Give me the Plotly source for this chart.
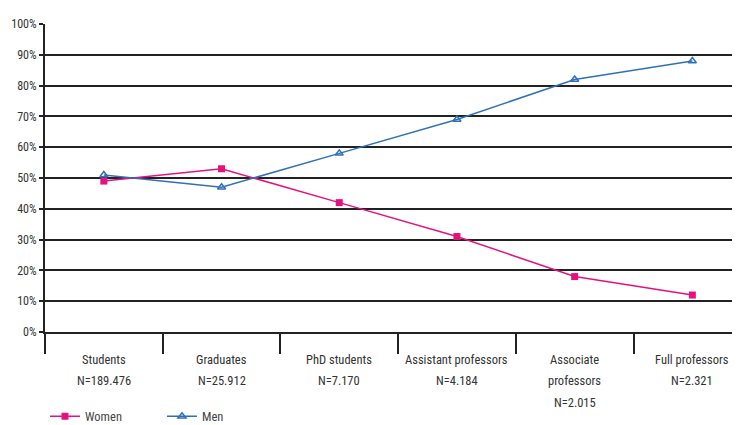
import plotly.graph_objects as go

categories = ["Students<br>N=189.476", "Graduates<br>N=25.912", "PhD students<br>N=7.170",
              "Assistant professors<br>N=4.184", "Associate<br>professors<br>N=2.015",
              "Full professors<br>N=2.321"]
women = [49, 53, 42, 31, 18, 12]
men = [51, 47, 58, 69, 82, 88]
y_ticks = [0, 10, 20, 30, 40, 50, 60, 70, 80, 90, 100]
y_ticktext = [f"{v}%" for v in y_ticks]

FONT = "Roboto Condensed, Liberation Sans Narrow, DejaVu Sans Condensed, Arial Narrow, sans-serif"
PINK = "#e5127d"
BLUE = "#2f71b8"

fig = go.Figure()
fig.add_trace(go.Scatter(x=categories, y=women, name="Women", mode="lines+markers",
                         line=dict(color=PINK, width=1.5),
                         marker=dict(symbol="square", size=7, color=PINK)))
fig.add_trace(go.Scatter(x=categories, y=men, name="Men", mode="lines+markers",
                         line=dict(color=BLUE, width=1.5),
                         marker=dict(symbol="triangle-up-open", size=7, color=BLUE,
                                     line=dict(width=1.5, color=BLUE))))

# page body has an ~8px default offset; margins compensate for it
W, H = 740, 425
L, T = 37, 16
PLOT_H = 308
R = 0
B = H - T - PLOT_H
cat_w = 117.7
xmax = -0.5 + (W - L - R) / cat_w

# category labels drawn line by line below the axis (wider line spacing than default)
for cat in categories:
    for i, line in enumerate(cat.split("<br>")):
        fig.add_annotation(x=cat, xref="x", y=0, yref="paper", yanchor="middle",
                           yshift=-(27 + 21.5 * i), text=line, showarrow=False,
                           font=dict(size=12.5, color="#333333", family=FONT))

fig.update_layout(
    width=W, height=H,
    margin=dict(l=L, r=R, t=T, b=B, autoexpand=False),
    paper_bgcolor="white", plot_bgcolor="white",
    font=dict(family=FONT, color="#333333", size=13),
    showlegend=True,
    legend=dict(orientation="h", x=0.0, xanchor="left", y=-0.226, yanchor="top",
                font=dict(size=12.5, color="#444444"),
                entrywidth=72, entrywidthmode="pixels", bgcolor="rgba(0,0,0,0)"),
    xaxis=dict(type="category", range=[-0.5, xmax], tickson="boundaries",
               ticks="outside", ticklen=20, tickwidth=2, tickcolor="#222222",
               showticklabels=False, automargin=False,
               showline=True, linecolor="#222222", linewidth=2,
               showgrid=False, zeroline=False),
    yaxis=dict(range=[0, 100], tickvals=y_ticks, ticktext=y_ticktext,
               ticks="outside", ticklen=4, tickwidth=2, tickcolor="#222222",
               showline=True, linecolor="#222222", linewidth=2,
               showgrid=True, gridcolor="#222222", gridwidth=2,
               zeroline=False, automargin=False,
               tickfont=dict(size=12, color="#333333", family=FONT)),
)

fig.write_html("out.html")
